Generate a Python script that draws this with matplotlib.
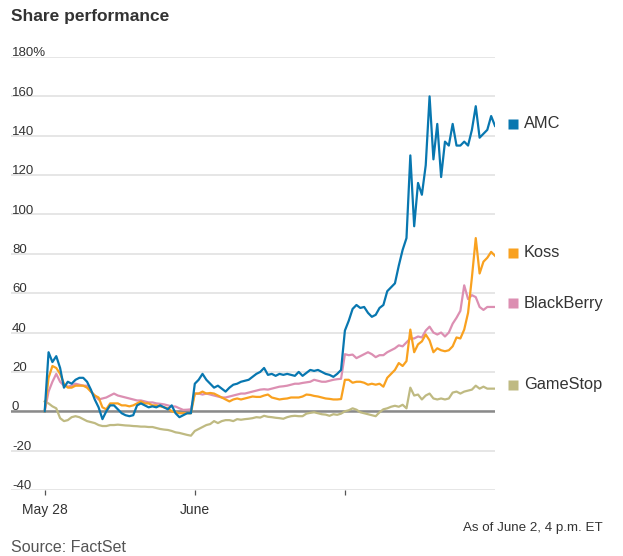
import matplotlib.pyplot as plt
from matplotlib.transforms import blended_transform_factory
import numpy as np

# 10-minute bars over three sessions (May 28, June 1, June 2), as % change
day_starts = [0, 39, 78]
day_labels = ['May 28', 'June', '']

amc = [0, 30, 25, 28, 22, 12, 15, 14, 16, 17,
       17, 15, 11, 6, 2, -4, 0, 3, 3, 1,
       -1, -2, -2.5, -2, 3, 4, 3, 2, 2.5, 2,
       3, 2, 1, 3, -1, -3, -2, -1, -1,
       14, 16, 19, 16, 14, 12, 13, 11.5, 10, 12,
       13.5, 14, 15, 15.5, 16, 17.5, 19, 20, 22, 18.5,
       19, 18, 19, 18.5, 19, 18.5, 18, 20, 18, 19.5,
       21, 20.5, 21, 20, 19, 18.5, 17.5, 19, 21,
       41, 46, 52, 54, 52.5, 53, 50, 48, 49, 52.5,
       54, 61, 63, 65, 74, 82, 88, 130, 94, 116,
       110, 125, 160, 128, 146, 119, 137, 135, 146, 135,
       135, 137, 135, 143, 155, 139, 141, 143, 150, 145]

koss = [0, 17, 23, 22, 19, 14, 12, 12, 13, 13,
        13, 12, 10, 8, 7, 2, 1, 4, 4, 4,
        3, 3, 2.5, 3, 4, 5, 4, 4, 3, 3,
        2.5, 2, 1.5, 0, -0.5, -1, -1, -1, -1,
        9, 9, 10, 9, 9.3, 9, 8, 7, 6, 5,
        6, 6.5, 6, 6.5, 7, 7.5, 7.3, 7.3, 8, 8.5,
        7, 6.5, 6, 6.3, 6.5, 7, 7, 7, 7.5, 8.5,
        8.3, 7.8, 7.5, 7, 6.5, 6.3, 6, 6, 6.2,
        16, 16, 14.5, 15, 15, 14.5, 13.5, 14, 13.5, 14,
        12.5, 17, 19, 21, 24.5, 23, 25.5, 41.5, 30, 34,
        35.5, 39, 36, 30, 32, 31, 30.5, 31, 33, 37.5,
        37, 41.5, 50, 68, 88, 70, 76, 78, 81, 79]

blackberry = [0, 10, 15, 19, 15, 13, 12.5, 13, 14, 13.5,
              13, 13, 10, 8, 6, 6.5, 7, 8, 9, 8,
              7.5, 7, 6.5, 6, 5.5, 5.5, 5, 4.5, 4.5, 4,
              3.8, 3.5, 3, 2.5, 2.4, 1.5, 0.7, 0.8, 1,
              9, 9, 8.5, 9, 8.5, 8, 7.5, 7, 7, 7.5,
              8, 8.5, 9, 9, 9.5, 10, 10.5, 11, 11.2, 11,
              11.5, 12, 12.5, 12.7, 13, 13.5, 14, 14, 14.4, 14.7,
              15, 16, 15.5, 15, 15, 15.5, 16, 16.3, 16.5,
              29, 28.5, 28.8, 27, 28, 29, 30, 29, 27.5, 28.5,
              28.5, 30, 31, 32, 33.5, 33, 35, 37, 37, 38,
              37.5, 41, 43, 40, 39, 40, 38, 40, 44.5, 47.5,
              51, 64, 57, 59, 58, 53, 51.5, 53, 53, 53]

gamestop = [5, 4, 2.5, 1.5, -3.5, -5, -4.5, -3, -2.5, -3,
            -4, -5, -5.5, -6, -7, -7.5, -7.5, -7, -7, -6.8,
            -7, -7.2, -7.3, -7.5, -7.6, -7.8, -7.8, -8, -8, -8.5,
            -9, -9.3, -9.5, -10, -10.7, -11, -11.5, -12, -12.4,
            -10, -9, -8, -7, -6.5, -5, -6, -5, -4.5, -4.5,
            -5, -4, -4.3, -4, -3.8, -3.5, -3, -3.2, -2.3, -2.8,
            -3, -3.3, -3.5, -3.8, -3, -2.5, -2.3, -2.5, -2.5, -1.2,
            -0.8, -0.5, -1, -1.5, -1.7, -2.3, -1.5, -1.8, -1.2,
            0, 0.5, 1.5, 0.8, -0.5, -1, -1.5, -2, -2.5, -0.5,
            1, 1.5, 2.3, 2.8, 2.3, 3.3, 1.5, 12, 8, 8.5,
            6, 8, 9, 6.5, 6, 6.5, 6, 6.5, 9.5, 10,
            9, 10, 10.5, 11, 13, 11.5, 12.5, 11.5, 11.5, 11.5]

names = ['GameStop', 'BlackBerry', 'Koss', 'AMC']
series = [gamestop, blackberry, koss, amc]
colors = ['#bfba82', '#dc8fb2', '#f9a11f', '#0877b0']
label_y = [13.5, 55, 80.5, 146]

yticks = list(range(-40, 181, 20))
ytick_labels = ['-40', '-20', '0', '20', '40', '60', '80', '100', '120', '140', '160', '180%']

narrow = ['Liberation Sans Narrow', 'Liberation Sans', 'DejaVu Sans']
regular = ['Liberation Sans', 'DejaVu Sans']
text_col = '#333333'

fig = plt.figure(figsize=(6.23, 5.56), dpi=100)
ax = fig.add_axes([11 / 623, 66 / 556, 484 / 623, 433 / 556])

bars = np.arange(len(amc))
for name, vals, col in zip(names, series, colors):
    ax.plot(bars, vals, color=col, lw=1.6, zorder=3, solid_joinstyle='round')

ax.axhline(0, color='#8a8a8a', lw=1.8, zorder=2)

ax.set_xlim(-8.76, len(amc) - 1)
ax.set_ylim(-40, 180)
ax.set_yticks(yticks)
ax.set_yticklabels([])
ax.tick_params(axis='y', length=0)
ax.yaxis.grid(True, color='#e2e2e2', lw=1.2, zorder=0)
ax.set_axisbelow(True)
for s in ax.spines.values():
    s.set_visible(False)

ax.set_xticks(day_starts)
ax.set_xticklabels(day_labels, family=narrow, fontsize=10, color=text_col)
ax.tick_params(axis='x', length=3.5, width=0.9, color='#555555', pad=6)

blend = blended_transform_factory(ax.transAxes, ax.transData)
for v, lab in zip(yticks, ytick_labels):
    ax.text(0.002, v + 0.4, lab, transform=blend, ha='left', va='baseline',
            family=narrow, fontsize=9.5, color=text_col)

# end labels with coloured squares
for name, col, y in zip(names, colors, label_y):
    ax.plot([1.038], [y], marker='s', ms=7.8, color=col, transform=blend,
            clip_on=False, mec='none')
    ax.text(1.06, y, name, transform=blend, ha='left', va='center',
            family=regular, fontsize=11.8, color=text_col)

fig.text(11 / 623, 1 - 21 / 556, 'Share performance', ha='left', va='baseline',
         family=narrow, fontsize=12.5, fontweight='bold', color=text_col)
fig.text(603 / 623, 1 - 531 / 556, 'As of June 2, 4 p.m. ET', ha='right',
         va='baseline', family=narrow, fontsize=9.6, color=text_col)
fig.text(11 / 623, 1 - 551.5 / 556, 'Source: FactSet', ha='left', va='baseline',
         family=narrow, fontsize=11.5, color='#555555')

fig.savefig('out.png', dpi=100)
